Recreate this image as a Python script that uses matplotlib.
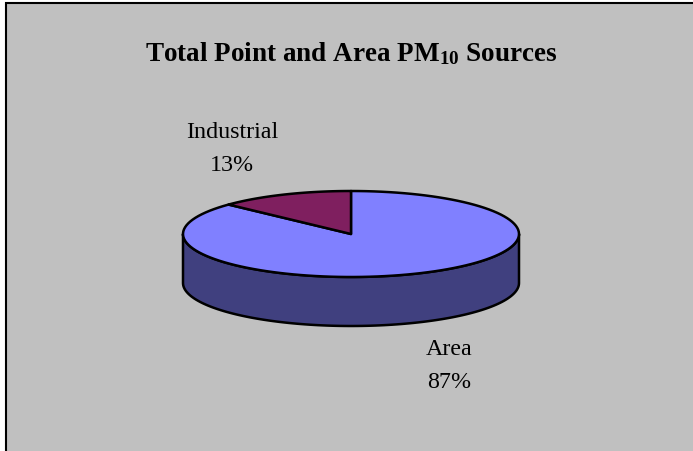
import numpy as np
import matplotlib.pyplot as plt
from matplotlib.patches import Polygon, Rectangle

plt.rcParams["font.family"] = ["Liberation Serif", "DejaVu Serif"]
plt.rcParams["mathtext.fontset"] = "custom"
plt.rcParams["mathtext.rm"] = "Liberation Serif:bold"
plt.rcParams["mathtext.it"] = "Liberation Serif:bold"
plt.rcParams["mathtext.bf"] = "Liberation Serif:bold"

# PM10 source shares (percent)
labels = ["Area", "Industrial"]
values = [87, 13]
top_colors = ["#8080FF", "#7F1F5F"]
side_colors = ["#40407F", "#3F0F2F"]
# label anchor: centre x, baseline of first line
label_pos = [(449, 355), (232, 138)]
line_gap = 33

title = "Total Point and Area PM$_{10}$ Sources"

# pie geometry in pixel space
cx, cy = 351, 234
ra, rb = 168, 43
depth = 49


def ellipse_pts(t0, t1, dy=0, n=120):
    t = np.radians(np.linspace(t0, t1, n))
    return np.column_stack([cx + ra * np.cos(t), cy - rb * np.sin(t) + dy])


fig = plt.figure(figsize=(6.93, 4.51), dpi=100, facecolor="white")
ax = fig.add_axes([0, 0, 1, 1])
ax.set_xlim(0, 693)
ax.set_ylim(451, 0)
ax.axis("off")

ax.add_patch(Rectangle((6, 3), 700, 460, facecolor="#C0C0C0",
                       edgecolor="black", lw=1.5))

# slice angles, clockwise from 12 o'clock
fracs = np.array(values, dtype=float) / sum(values)
ends = 90 - 360 * np.cumsum(fracs)
starts = np.concatenate([[90], ends[:-1]])

# front side wall: only the part between 180 and 360 degrees is visible
for s, e, sc in zip(starts, ends, side_colors):
    for k in range(-1, 2):
        a0 = max(min(s, e), 180 - 360 * k)
        a1 = min(max(s, e), 360 - 360 * k)
        if a1 > a0:
            top = ellipse_pts(a0, a1)
            bot = ellipse_pts(a1, a0, dy=depth)
            ax.add_patch(Polygon(np.vstack([top, bot]), closed=True,
                                 facecolor=sc, edgecolor="black", lw=1.8,
                                 joinstyle="round"))

# top faces
for s, e, tc in zip(starts, ends, top_colors):
    pts = np.vstack([[cx, cy], ellipse_pts(s, e)])
    ax.add_patch(Polygon(pts, closed=True, facecolor=tc, edgecolor="black",
                         lw=1.8, joinstyle="round"))

for lab, val, (x, y) in zip(labels, values, label_pos):
    ax.text(x, y, lab, ha="center", va="baseline", fontsize=17.3)
    ax.text(x, y + line_gap, f"{val}%", ha="center", va="baseline",
            fontsize=17.3)

ax.text(351, 61, title, ha="center", va="baseline", fontsize=19.5,
        fontweight="bold")

fig.savefig("out.png", dpi=100, facecolor=fig.get_facecolor())
